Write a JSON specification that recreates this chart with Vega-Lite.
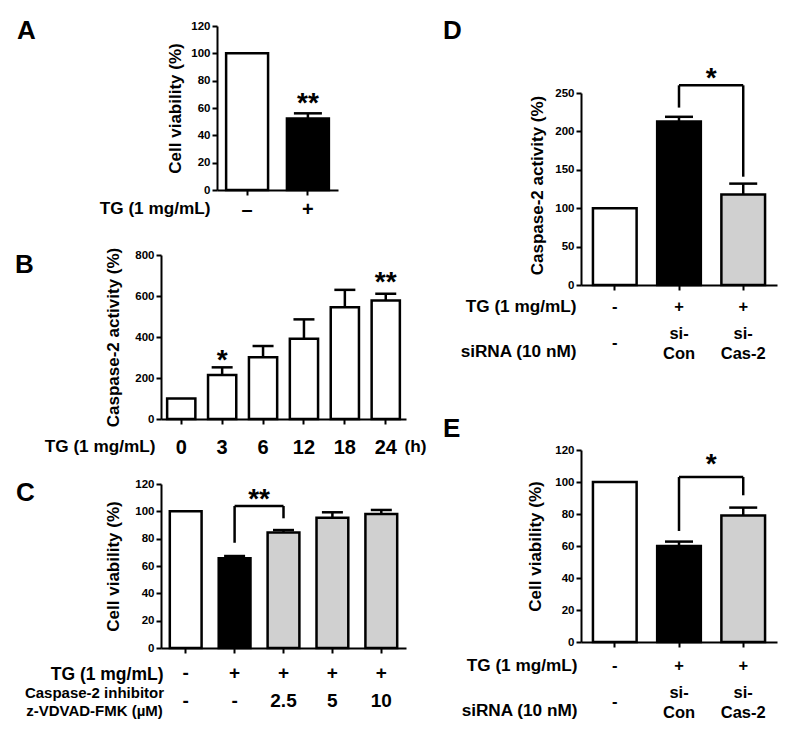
{
  "$schema": "https://vega.github.io/schema/vega-lite/v6.json",
  "autosize": {"type": "pad"},
  "padding": {"left": 15, "top": 18, "right": 5, "bottom": 5},
  "background": "white",
  "config": {
    "font": "Liberation Sans",
    "view": {"stroke": null},
    "axis": {"domainColor": "black", "domainWidth": 2, "tickColor": "black", "tickWidth": 2, "tickSize": 5, "labelColor": "black", "labelFontWeight": "bold", "titleColor": "black", "titleFontWeight": "bold", "grid": false, "labelFont": "Liberation Sans", "titleFont": "Liberation Sans", "labelFlush": false, "labelOverlap": false, "labelBound": false},
    "axisY": {"labelFontSize": 11.5, "titleFontSize": 17, "labelPadding": 2, "labelOverlap": false},
    "axisX": {"labelAngle": 0, "labelBaseline": "alphabetic", "titleBaseline": "alphabetic", "titleAlign": "right", "titleFontSize": 17.2},
    "title": {"fontSize": 26, "fontWeight": "bold", "color": "black", "orient": "none", "align": "left", "baseline": "alphabetic", "anchor": "start"}
  },
  "datasets": {
    "Amain": [
      {"k": "–", "v": 100, "g": "c"},
      {"k": "+", "v": 52.4, "up": 56.1, "g": "t", "s": "**", "sy": 57.3}
    ],
    "Bmain": [
      {"k": "0", "v": 100, "g": "c"},
      {"k": "3", "v": 215, "up": 252, "g": "c", "s": "*", "sy": 246},
      {"k": "6", "v": 301, "up": 356, "g": "c"},
      {"k": "12", "v": 392, "up": 486, "g": "c"},
      {"k": "18", "v": 545, "up": 630, "g": "c"},
      {"k": "24", "v": 578, "up": 611, "g": "c", "s": "**", "sy": 624}
    ],
    "Cmain": [
      {"k": "-|-", "v": 100, "g": "c"},
      {"k": "+|-", "v": 65.6, "up": 67.3, "g": "t"},
      {"k": "+|2.5", "v": 84.6, "up": 86.3, "g": "i"},
      {"k": "+|5", "v": 95.3, "up": 99.3, "g": "i"},
      {"k": "+|10", "v": 98, "up": 101, "g": "i"}
    ],
    "Cbr": [
      {"k": "+|-", "lo": 77, "hi": 103.9},
      {"k": "+|2.5", "lo": 94.9, "hi": 103.9}
    ],
    "Cbh": [{"k": "+|-", "k2": "+|2.5", "y": 103.9, "s": "**"}],
    "Dmain": [
      {"k": "ctrl", "v": 100, "g": "c"},
      {"k": "con", "v": 213, "up": 219, "g": "t"},
      {"k": "cas", "v": 118, "up": 132, "g": "i"}
    ],
    "Dbr": [
      {"k": "con", "lo": 231, "hi": 260},
      {"k": "cas", "lo": 141, "hi": 260}
    ],
    "Dbh": [{"k": "con", "k2": "cas", "y": 260, "s": "*"}],
    "Emain": [
      {"k": "ctrl", "v": 100, "g": "c"},
      {"k": "con", "v": 60, "up": 62.75, "g": "t"},
      {"k": "cas", "v": 79, "up": 84, "g": "i"}
    ],
    "Ebr": [
      {"k": "con", "lo": 69.4, "hi": 103.1},
      {"k": "cas", "lo": 91.7, "hi": 103.1}
    ],
    "Ebh": [{"k": "con", "k2": "cas", "y": 103.1, "s": "*"}]
  },
  "spacing": 420,
  "bounds": "flush",
  "hconcat": [
    {
      "spacing": 229,
      "bounds": "flush",
      "vconcat": [
        {
          "spacing": 55,
          "bounds": "flush",
          "hconcat": [
            {"width": 1, "height": 164, "data": {"values": []}, "mark": "point"},
            {
              "width": 121, "height": 164,
              "title": {"text": "A", "dx": -200, "dy": -8},
              "data": {"name": "Amain"},
              "resolve": {"axis": {"y": "independent"}},
              "encoding": {"x": {"field": "k", "type": "nominal", "scale": {"domain": ["–", "+"], "paddingInner": 0.31, "paddingOuter": 0.15}, "axis": {"title": "TG (1 mg/mL)", "titleX": -7, "titleY": 23.9, "labelFontSize": 20, "labelPadding": 20.7}}},
              "layer": [
                {"mark": {"type": "bar", "stroke": "black", "strokeWidth": 2.5}, "encoding": {"y": {"field": "v", "type": "quantitative", "scale": {"domain": [0, 120], "nice": false}, "axis": {"orient": "left", "values": [0, 20, 40, 60, 80, 100, 120], "labelOverlap": false, "title": "Cell viability (%)", "titleX": -33}}, "fill": {"field": "g", "type": "nominal", "scale": {"domain": ["c", "t", "i"], "range": ["#ffffff", "#000000", "#d0d0d0"]}, "legend": null}}},
                {"transform": [{"filter": "isValid(datum.up)"}], "mark": {"type": "rule", "color": "black", "strokeWidth": 2.5}, "encoding": {"y": {"field": "v", "type": "quantitative", "axis": null}, "y2": {"field": "up"}}},
                {"transform": [{"filter": "isValid(datum.up)"}], "mark": {"type": "tick", "color": "black", "thickness": 2.5, "size": 28, "opacity": 1}, "encoding": {"y": {"field": "up", "type": "quantitative", "axis": null}}},
                {"transform": [{"filter": "isValid(datum.s)"}], "mark": {"type": "text", "fontSize": 28, "fontWeight": "bold", "baseline": "alphabetic", "color": "black"}, "encoding": {"y": {"field": "sy", "type": "quantitative", "axis": null}, "text": {"field": "s"}}}
              ]
            }
          ]
        },
        {
          "spacing": 65,
          "bounds": "flush",
          "vconcat": [
            {
              "width": 245, "height": 164,
              "title": {"text": "B", "dx": -146, "dy": -3},
              "data": {"name": "Bmain"},
              "resolve": {"axis": {"x": "independent", "y": "independent"}},
              "layer": [
                {"mark": {"type": "bar", "stroke": "black", "strokeWidth": 2.5}, "encoding": {"x": {"field": "k", "type": "nominal", "scale": {"domain": ["0", "3", "6", "12", "18", "24"], "paddingInner": 0.31, "paddingOuter": 0.15}, "axis": {"orient": "bottom", "title": "TG (1 mg/mL)", "titleX": -6, "titleY": 32.7, "labelFontSize": 20, "labelPadding": 29.9}}, "y": {"field": "v", "type": "quantitative", "scale": {"domain": [0, 800], "nice": false}, "axis": {"orient": "left", "values": [0, 200, 400, 600, 800], "labelOverlap": false, "title": "Caspase-2 activity (%)", "titleX": -39}}, "fill": {"field": "g", "type": "nominal", "scale": {"domain": ["c", "t", "i"], "range": ["#ffffff", "#000000", "#d0d0d0"]}, "legend": null}}},
                {"transform": [{"filter": "isValid(datum.up)"}], "mark": {"type": "rule", "color": "black", "strokeWidth": 2.5}, "encoding": {"x": {"field": "k", "type": "nominal", "axis": {"orient": "bottom", "title": "(h)", "titleAlign": "left", "titleX": 243, "titleY": 32.7, "labels": false, "ticks": false, "domain": false}}, "y": {"field": "v", "type": "quantitative", "axis": null}, "y2": {"field": "up"}}},
                {"transform": [{"filter": "isValid(datum.up)"}], "mark": {"type": "tick", "color": "black", "thickness": 2.5, "size": 21, "opacity": 1}, "encoding": {"x": {"field": "k", "type": "nominal", "axis": null}, "y": {"field": "up", "type": "quantitative", "axis": null}}},
                {"transform": [{"filter": "isValid(datum.s)"}], "mark": {"type": "text", "fontSize": 28, "fontWeight": "bold", "baseline": "alphabetic", "color": "black"}, "encoding": {"x": {"field": "k", "type": "nominal", "axis": null}, "y": {"field": "sy", "type": "quantitative", "axis": null}, "text": {"field": "s"}}}
              ]
            },
            {
              "width": 245, "height": 164,
              "title": {"text": "C", "dx": -145, "dy": -4},
              "resolve": {"axis": {"x": "independent", "y": "independent"}},
              "layer": [
                {"data": {"name": "Cmain"}, "mark": {"type": "bar", "stroke": "black", "strokeWidth": 2.5}, "encoding": {"x": {"field": "k", "type": "nominal", "scale": {"domain": ["-|-", "+|-", "+|2.5", "+|5", "+|10"], "paddingInner": 0.35, "paddingOuter": 0.18}, "axis": {"orient": "bottom", "title": "TG  (1 mg/mL)", "titleX": 2, "titleY": 31.2, "titleFontSize": 17.5, "labelFontSize": 19, "labelPadding": 25.2, "labelLineHeight": 28.5, "labelExpr": "split(datum.label, '|')"}}, "y": {"field": "v", "type": "quantitative", "scale": {"domain": [0, 120], "nice": false}, "axis": {"orient": "left", "values": [0, 20, 40, 60, 80, 100, 120], "labelOverlap": false, "title": "Cell viability (%)", "titleX": -39}}, "fill": {"field": "g", "type": "nominal", "scale": {"domain": ["c", "t", "i"], "range": ["#ffffff", "#000000", "#d0d0d0"]}, "legend": null}}},
                {"data": {"name": "Cmain"}, "transform": [{"filter": "isValid(datum.up)"}], "mark": {"type": "rule", "color": "black", "strokeWidth": 2.5}, "encoding": {"x": {"field": "k", "type": "nominal", "axis": {"orient": "bottom", "title": ["Caspase-2 inhibitor", "z-VDVAD-FMK (µM)"], "titleAlign": "center", "titleX": -67, "titleY": 49.4, "titleLineHeight": 18.3, "titleFontSize": 15, "labels": false, "ticks": false, "domain": false}}, "y": {"field": "v", "type": "quantitative", "axis": null}, "y2": {"field": "up"}}},
                {"data": {"name": "Cmain"}, "transform": [{"filter": "isValid(datum.up)"}], "mark": {"type": "tick", "color": "black", "thickness": 2.5, "size": 21, "opacity": 1}, "encoding": {"x": {"field": "k", "type": "nominal", "axis": null}, "y": {"field": "up", "type": "quantitative", "axis": null}}},
                {"data": {"name": "Cbr"}, "mark": {"type": "rule", "color": "black", "strokeWidth": 2.5}, "encoding": {"x": {"field": "k", "type": "nominal", "axis": null}, "y": {"field": "lo", "type": "quantitative", "axis": null}, "y2": {"field": "hi"}}},
                {"data": {"name": "Cbh"}, "mark": {"type": "rule", "color": "black", "strokeWidth": 2.5}, "encoding": {"x": {"field": "k", "type": "nominal", "axis": null}, "x2": {"field": "k2"}, "y": {"field": "y", "type": "quantitative", "axis": null}}},
                {"data": {"name": "Cbh"}, "mark": {"type": "text", "fontSize": 28, "fontWeight": "bold", "baseline": "alphabetic", "color": "black", "dy": 2}, "encoding": {"x": {"field": "k", "type": "nominal", "axis": null, "bandPosition": 1.27}, "y": {"field": "y", "type": "quantitative", "axis": null}, "text": {"field": "s"}}}
              ]
            }
          ]
        }
      ]
    },
    {
      "spacing": 66,
      "bounds": "flush",
      "vconcat": [
        {"width": 196, "height": 1, "data": {"values": []}, "mark": "point"},
        {
          "spacing": 165,
          "bounds": "flush",
          "vconcat": [
            {
              "width": 196, "height": 192,
              "title": {"text": "D", "dx": -138, "dy": -75},
              "resolve": {"axis": {"x": "independent", "y": "independent"}},
              "layer": [
                {"data": {"name": "Dmain"}, "mark": {"type": "bar", "stroke": "black", "strokeWidth": 2.5}, "encoding": {"x": {"field": "k", "type": "nominal", "scale": {"domain": ["ctrl", "con", "cas"], "paddingInner": 0.32, "paddingOuter": 0.186}, "axis": {"orient": "bottom", "title": "TG (1 mg/mL)", "titleX": -5, "titleY": 26, "labelFontSize": 16.5, "labelPadding": 21.1, "labelExpr": "datum.label == 'ctrl' ? '-' : '+'"}}, "y": {"field": "v", "type": "quantitative", "scale": {"domain": [0, 250], "nice": false}, "axis": {"orient": "left", "values": [0, 50, 100, 150, 200, 250], "labelOverlap": false, "title": "Caspase-2 activity (%)", "titleX": -35, "titleY": 92}}, "fill": {"field": "g", "type": "nominal", "scale": {"domain": ["c", "t", "i"], "range": ["#ffffff", "#000000", "#d0d0d0"]}, "legend": null}}},
                {"data": {"name": "Dmain"}, "transform": [{"filter": "isValid(datum.up)"}], "mark": {"type": "rule", "color": "black", "strokeWidth": 2.5}, "encoding": {"x": {"field": "k", "type": "nominal", "axis": {"orient": "bottom", "title": "siRNA (10 nM)", "titleX": -5, "titleY": 71, "labelFontSize": 16.5, "labelLineHeight": 20, "labelPadding": {"condition": {"test": "datum.value == 'ctrl'", "value": 57.3}, "value": 48.5}, "labelExpr": "datum.label == 'ctrl' ? '-' : datum.label == 'con' ? ['si-', 'Con'] : ['si-', 'Cas-2']", "domain": false, "tickOpacity": 0}}, "y": {"field": "v", "type": "quantitative", "axis": null}, "y2": {"field": "up"}}},
                {"data": {"name": "Dmain"}, "transform": [{"filter": "isValid(datum.up)"}], "mark": {"type": "tick", "color": "black", "thickness": 2.5, "size": 28, "opacity": 1}, "encoding": {"x": {"field": "k", "type": "nominal", "axis": null}, "y": {"field": "up", "type": "quantitative", "axis": null}}},
                {"data": {"name": "Dbr"}, "mark": {"type": "rule", "color": "black", "strokeWidth": 2.5}, "encoding": {"x": {"field": "k", "type": "nominal", "axis": null}, "y": {"field": "lo", "type": "quantitative", "axis": null}, "y2": {"field": "hi"}}},
                {"data": {"name": "Dbh"}, "mark": {"type": "rule", "color": "black", "strokeWidth": 2.5}, "encoding": {"x": {"field": "k", "type": "nominal", "axis": null}, "x2": {"field": "k2"}, "y": {"field": "y", "type": "quantitative", "axis": null}}},
                {"data": {"name": "Dbh"}, "mark": {"type": "text", "fontSize": 28, "fontWeight": "bold", "baseline": "alphabetic", "color": "black", "dy": 1.5}, "encoding": {"x": {"field": "k", "type": "nominal", "axis": null, "bandPosition": 1.235}, "y": {"field": "y", "type": "quantitative", "axis": null}, "text": {"field": "s"}}}
              ]
            },
            {
              "width": 196, "height": 192,
              "title": {"text": "E", "dx": -138, "dy": -34},
              "resolve": {"axis": {"x": "independent", "y": "independent"}},
              "layer": [
                {"data": {"name": "Emain"}, "mark": {"type": "bar", "stroke": "black", "strokeWidth": 2.5}, "encoding": {"x": {"field": "k", "type": "nominal", "scale": {"domain": ["ctrl", "con", "cas"], "paddingInner": 0.32, "paddingOuter": 0.186}, "axis": {"orient": "bottom", "title": "TG (1 mg/mL)", "titleX": -4, "titleY": 28.1, "labelFontSize": 16.5, "labelPadding": 23.2, "labelExpr": "datum.label == 'ctrl' ? '-' : '+'"}}, "y": {"field": "v", "type": "quantitative", "scale": {"domain": [0, 120], "nice": false}, "axis": {"orient": "left", "values": [0, 20, 40, 60, 80, 100, 120], "labelOverlap": false, "title": "Cell viability (%)", "titleX": -37}}, "fill": {"field": "g", "type": "nominal", "scale": {"domain": ["c", "t", "i"], "range": ["#ffffff", "#000000", "#d0d0d0"]}, "legend": null}}},
                {"data": {"name": "Emain"}, "transform": [{"filter": "isValid(datum.up)"}], "mark": {"type": "rule", "color": "black", "strokeWidth": 2.5}, "encoding": {"x": {"field": "k", "type": "nominal", "axis": {"orient": "bottom", "title": "siRNA (10 nM)", "titleX": -4, "titleY": 73.1, "labelFontSize": 16.5, "labelLineHeight": 20, "labelPadding": {"condition": {"test": "datum.value == 'ctrl'", "value": 59.3}, "value": 50.6}, "labelExpr": "datum.label == 'ctrl' ? '-' : datum.label == 'con' ? ['si-', 'Con'] : ['si-', 'Cas-2']", "domain": false, "tickOpacity": 0}}, "y": {"field": "v", "type": "quantitative", "axis": null}, "y2": {"field": "up"}}},
                {"data": {"name": "Emain"}, "transform": [{"filter": "isValid(datum.up)"}], "mark": {"type": "tick", "color": "black", "thickness": 2.5, "size": 28, "opacity": 1}, "encoding": {"x": {"field": "k", "type": "nominal", "axis": null}, "y": {"field": "up", "type": "quantitative", "axis": null}}},
                {"data": {"name": "Ebr"}, "mark": {"type": "rule", "color": "black", "strokeWidth": 2.5}, "encoding": {"x": {"field": "k", "type": "nominal", "axis": null}, "y": {"field": "lo", "type": "quantitative", "axis": null}, "y2": {"field": "hi"}}},
                {"data": {"name": "Ebh"}, "mark": {"type": "rule", "color": "black", "strokeWidth": 2.5}, "encoding": {"x": {"field": "k", "type": "nominal", "axis": null}, "x2": {"field": "k2"}, "y": {"field": "y", "type": "quantitative", "axis": null}}},
                {"data": {"name": "Ebh"}, "mark": {"type": "text", "fontSize": 28, "fontWeight": "bold", "baseline": "alphabetic", "color": "black", "dy": -4}, "encoding": {"x": {"field": "k", "type": "nominal", "axis": null, "bandPosition": 1.235}, "y": {"field": "y", "type": "quantitative", "axis": null}, "text": {"field": "s"}}}
              ]
            }
          ]
        }
      ]
    }
  ]
}
